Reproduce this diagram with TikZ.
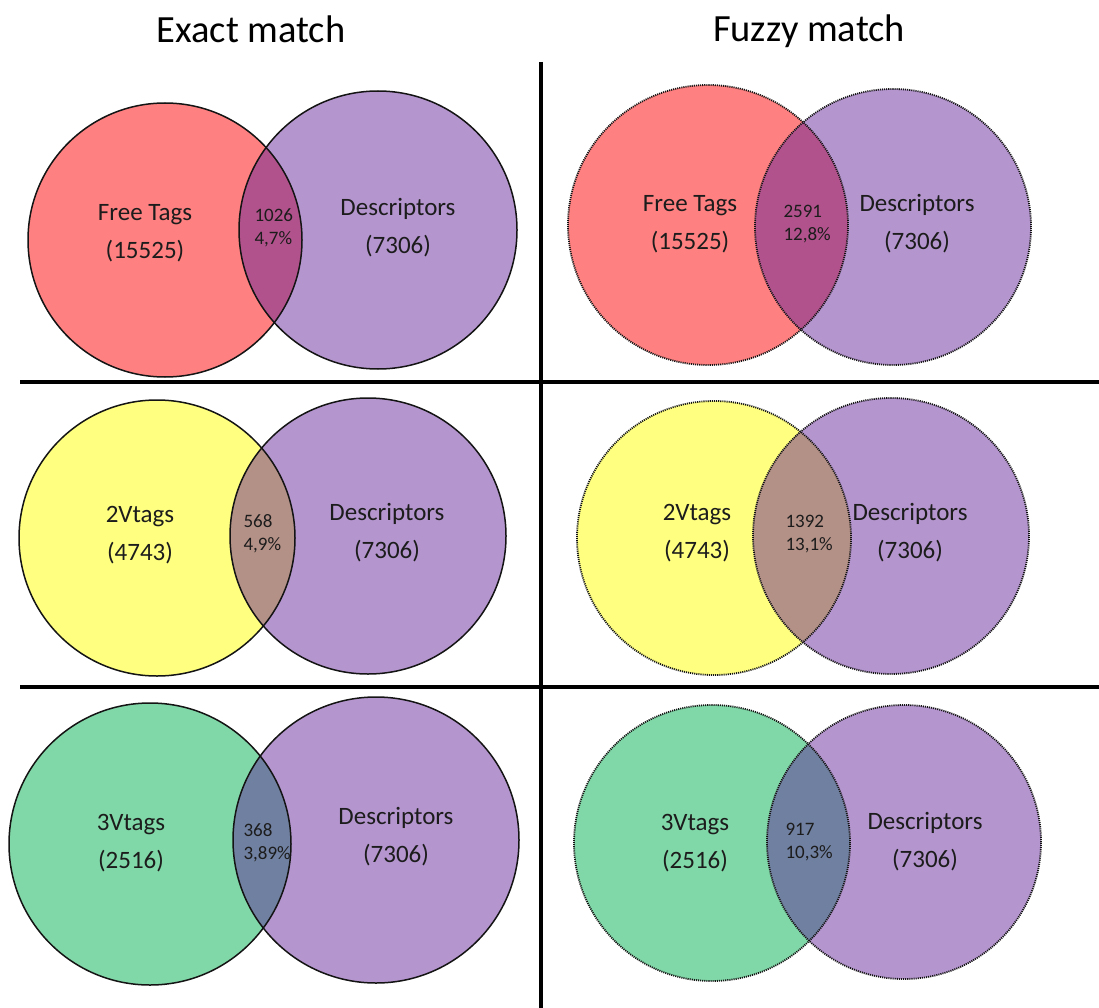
\documentclass[tikz,border=0pt]{standalone}
\usepackage{fontspec}
\setmainfont{Carlito}

\definecolor{tagred}{RGB}{255,128,128}
\definecolor{tagyellow}{RGB}{255,255,128}
\definecolor{taggreen}{RGB}{128,216,168}
\definecolor{descpurple}{RGB}{180,149,206}
\definecolor{lensred}{RGB}{178,82,140}
\definecolor{lensyellow}{RGB}{180,145,135}
\definecolor{lensgreen}{RGB}{112,128,160}
\definecolor{ink}{RGB}{28,28,28}
\definecolor{rim}{RGB}{20,20,20}

\tikzset{
  setcircle/.style={circle, inner sep=0pt, outer sep=0pt, minimum size=#1},
  exactrim/.style={draw=rim, line width=1.5pt},
  fuzzyrim/.style={draw=rim, line width=1.8pt, dash pattern=on 1.1pt off 1pt},
  setlabel/.style={font=\fontsize{25}{38}\selectfont, align=center, text=ink},
  overlap/.style={font=\fontsize{19}{23}\selectfont, align=left, anchor=west, text=ink},
  heading/.style={font=\fontsize{38.5}{44}\selectfont, text=black},
  divider/.style={draw=black, line width=3.2pt}
}

% a tag set (left) overlapping the descriptor set (right);
% the lens is painted inside the descriptor circle, together with the
% part of the tag circle's rim that falls inside it
\newcommand{\vennpair}[9]{%
  % #1 rim style, #2 tag name, #3 tag centre, #4 tag radius, #5 tag colour,
  % #6 descriptor name, #7 descriptor centre, #8 descriptor radius, #9 lens colour
  \node[setcircle=2*#4, fill=#5, #1] (#2) at #3 {};
  \node[setcircle=2*#8, fill=descpurple, #1,
        path picture={\fill[#9] (#2.center) circle[radius=#4];
                      \draw[#1] (#2.center) circle[radius=#4];}] (#6) at #7 {};
}

\begin{document}
\begin{tikzpicture}[x=1pt, y=-1pt]
\useasboundingbox (0,0) rectangle (1099,1008);
\fill[white] (0,0) rectangle (1099,1008);

% column headings
\node[heading] (hexact) at (251,29) {Exact match};
\node[heading] (hfuzzy) at (809,31) {Fuzzy match};

% grid separating the six diagrams
\coordinate (vtop) at (541,62);
\coordinate (vbot) at (541,1008);
\coordinate (h1l) at (20,382);
\coordinate (h1r) at (1099,382);
\coordinate (h2l) at (20,687);
\coordinate (h2r) at (1099,687);
\draw[divider] (vtop) -- (vbot);
\draw[divider] (h1l) -- (h1r);
\draw[divider] (h2l) -- (h2r);

% ---------- Free Tags ----------
\vennpair{exactrim}{ftE}{(165,240)}{137pt}{tagred}{dsE1}{(378,230)}{139pt}{lensred}
\node[setlabel] (ftEl) at (145,233) {Free Tags\\(15525)};
\node[setlabel] (dsE1l) at (398,228) {Descriptors\\(7306)};
\node[overlap] (ovE1) at (251,228) {1026\\4,7\%};

\vennpair{fuzzyrim}{ftF}{(708,225)}{140pt}{tagred}{dsF1}{(893,227)}{138pt}{lensred}
\node[setlabel] (ftFl) at (690,224) {Free Tags\\(15525)};
\node[setlabel] (dsF1l) at (917,224) {Descriptors\\(7306)};
\node[overlap] (ovF1) at (780,224) {2591\\12,8\%};

% ---------- 2Vtags ----------
\vennpair{exactrim}{twE}{(157,538)}{138pt}{tagyellow}{dsE2}{(368,536)}{138pt}{lensyellow}
\node[setlabel] (twEl) at (140,535) {2Vtags\\(4743)};
\node[setlabel] (dsE2l) at (387,533) {Descriptors\\(7306)};
\node[overlap] (ovE2) at (240,534) {568\\4,9\%};

\vennpair{fuzzyrim}{twF}{(714,538)}{137pt}{tagyellow}{dsF2}{(891,536)}{138pt}{lensyellow}
\node[setlabel] (twFl) at (697,533) {2Vtags\\(4743)};
\node[setlabel] (dsF2l) at (910,533) {Descriptors\\(7306)};
\node[overlap] (ovF2) at (782,534) {1392\\13,1\%};

% ---------- 3Vtags ----------
\vennpair{exactrim}{thE}{(150,844)}{141pt}{taggreen}{dsE3}{(376,840)}{143pt}{lensgreen}
\node[setlabel] (thEl) at (131,843) {3Vtags\\(2516)};
\node[setlabel] (dsE3l) at (396,837) {Descriptors\\(7306)};
\node[overlap] (ovE3) at (240,843) {368\\3,89\%};

\vennpair{fuzzyrim}{thF}{(712,843)}{138pt}{taggreen}{dsF3}{(904,842)}{137pt}{lensgreen}
\node[setlabel] (thFl) at (695,843) {3Vtags\\(2516)};
\node[setlabel] (dsF3l) at (925,842) {Descriptors\\(7306)};
\node[overlap] (ovF3) at (782,842) {917\\10,3\%};
\end{tikzpicture}
\end{document}
